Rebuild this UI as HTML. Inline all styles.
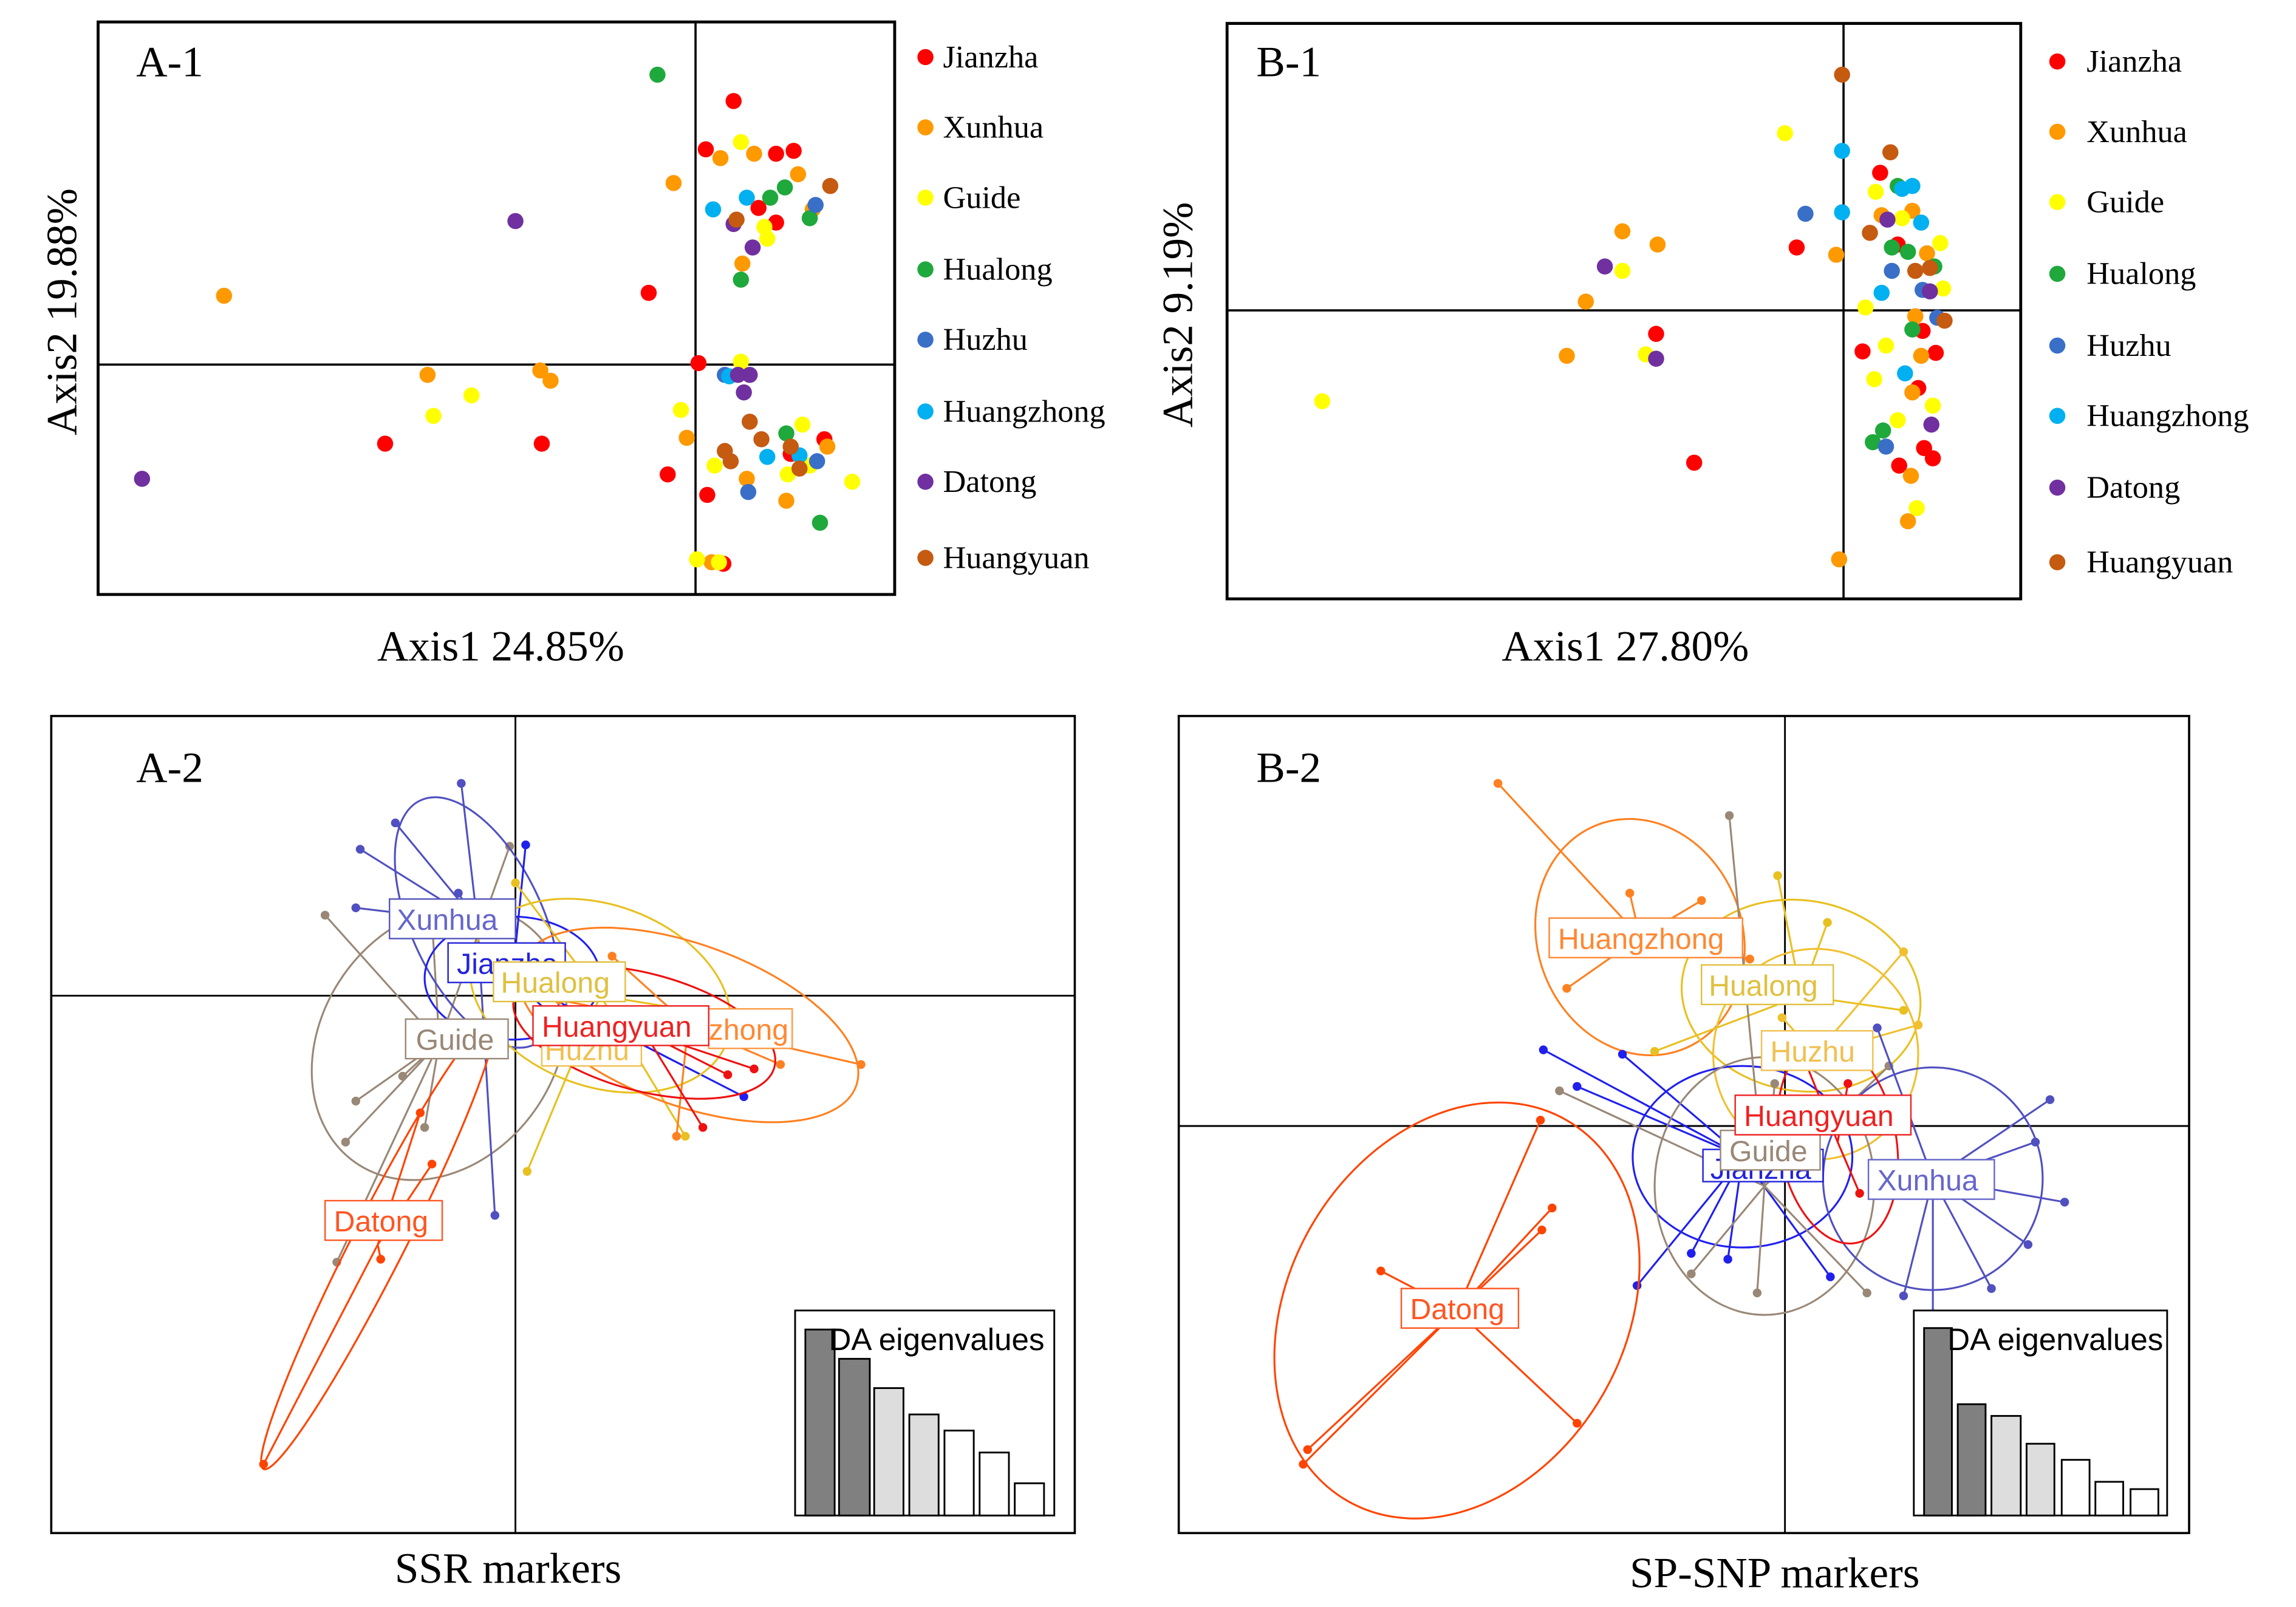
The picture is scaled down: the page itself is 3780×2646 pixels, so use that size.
<!DOCTYPE html>
<html><head><meta charset="utf-8"><style>
html,body{margin:0;padding:0;background:#fff}
svg{display:block}
.t{font-family:"Liberation Serif",serif;fill:#000}
.s{font-family:"Liberation Sans",sans-serif}
</style></head><body>
<svg id="s" width="3780" height="2646" viewBox="0 0 1568 1097.5" preserveAspectRatio="none" xmlns="http://www.w3.org/2000/svg">
<rect width="1568" height="1098" fill="#fff"/>
<!-- A-1 -->
<rect x="67" y="15" width="544" height="391" fill="none" stroke="#000" stroke-width="2"/>
<line x1="475" y1="15" x2="475" y2="406" stroke="#000" stroke-width="1.5"/>
<line x1="67" y1="249" x2="611" y2="249" stroke="#000" stroke-width="1.5"/>
<text class="t" x="93" y="52" font-size="29.5">A-1</text>
<text class="t" x="342" y="451" font-size="29.5" text-anchor="middle">Axis1 24.85%</text>
<text class="t" x="52" y="213" font-size="29.5" text-anchor="middle" transform="rotate(-90 52 213)">Axis2 19.88%</text>
<!-- B-1 -->
<rect x="838" y="16" width="542" height="393" fill="none" stroke="#000" stroke-width="2"/>
<line x1="1259" y1="16" x2="1259" y2="409" stroke="#000" stroke-width="1.5"/>
<line x1="838" y1="212" x2="1380" y2="212" stroke="#000" stroke-width="1.5"/>
<text class="t" x="858" y="52" font-size="29.5">B-1</text>
<text class="t" x="1110" y="451" font-size="29.5" text-anchor="middle">Axis1 27.80%</text>
<text class="t" x="814" y="215" font-size="29.5" text-anchor="middle" transform="rotate(-90 814 215)">Axis2 9.19%</text>
<!-- legends -->
<g class="t" font-size="21.7">
<text x="644" y="46">Jianzha</text><text x="644" y="94">Xunhua</text><text x="644" y="142">Guide</text><text x="644" y="191">Hualong</text>
<text x="644" y="239">Huzhu</text><text x="644" y="288">Huangzhong</text><text x="644" y="336">Datong</text><text x="644" y="388">Huangyuan</text>
<text x="1425" y="49">Jianzha</text><text x="1425" y="97">Xunhua</text><text x="1425" y="145">Guide</text><text x="1425" y="194">Hualong</text>
<text x="1425" y="243">Huzhu</text><text x="1425" y="291">Huangzhong</text><text x="1425" y="340">Datong</text><text x="1425" y="391">Huangyuan</text>
</g>
<!-- A-2 -->
<rect x="35" y="489" width="699" height="558" fill="none" stroke="#000" stroke-width="1.5"/>
<line x1="352" y1="489" x2="352" y2="1047" stroke="#000" stroke-width="1.2"/>
<line x1="35" y1="680" x2="734" y2="680" stroke="#000" stroke-width="1.2"/>
<text class="t" x="93" y="534" font-size="29.5">A-2</text>
<text class="t" x="347" y="1081" font-size="29.5" text-anchor="middle">SSR markers</text>
<!-- B-2 -->
<rect x="805" y="489" width="690" height="558" fill="none" stroke="#000" stroke-width="1.5"/>
<line x1="1219" y1="489" x2="1219" y2="1047" stroke="#000" stroke-width="1.2"/>
<line x1="805" y1="769" x2="1495" y2="769" stroke="#000" stroke-width="1.2"/>
<text class="t" x="858" y="534" font-size="29.5">B-2</text>
<text class="t" x="1212" y="1084" font-size="29.5" text-anchor="middle">SP-SNP markers</text>
<g id="dyn"></g>
<!-- labels A-2 -->
<g class="s" font-size="20">
<rect x="266" y="614" width="86" height="27" fill="#fff" stroke="#5555bb"/><text x="271" y="635" fill="#6666cc">Xunhua</text>
<rect x="306" y="644" width="80" height="27" fill="#fff" stroke="#2222dd"/><text x="312" y="665" fill="#2222dd">Jianzha</text>
<rect x="484" y="689" width="57" height="27" fill="#fff" stroke="#ff9944"/><text x="484" y="710" fill="#ff8833">zhong</text>
<rect x="370" y="706" width="68" height="22" fill="#fff" stroke="#f0c050"/><text x="372" y="724" fill="#f0c050">Huzhu</text>
<rect x="337" y="657" width="90" height="27" fill="#fff" stroke="#e0c040"/><text x="342" y="678" fill="#e0c040">Hualong</text>
<rect x="277" y="696" width="70" height="27" fill="#fff" stroke="#998877"/><text x="284" y="717" fill="#998877">Guide</text>
<rect x="364" y="687" width="120" height="27" fill="#fff" stroke="#ee2222"/><text x="370" y="708" fill="#ee2222">Huangyuan</text>
<rect x="222" y="820" width="80" height="27" fill="#fff" stroke="#ff5522"/><text x="228" y="841" fill="#ff5522">Datong</text>
<!-- labels B-2 -->
<rect x="1058" y="627" width="132" height="27" fill="#fff" stroke="#ff8833"/><text x="1064" y="648" fill="#ff8833">Huangzhong</text>
<rect x="1162" y="659" width="90" height="27" fill="#fff" stroke="#e0c040"/><text x="1167" y="680" fill="#e0c040">Hualong</text>
<rect x="1203" y="704" width="76" height="27" fill="#fff" stroke="#f0c050"/><text x="1209" y="725" fill="#f0c050">Huzhu</text>
<rect x="1163" y="785" width="82" height="22" fill="#fff" stroke="#2222dd"/><text x="1168" y="805" fill="#2222dd">Jianzha</text>
<rect x="1175" y="772" width="68" height="27" fill="#fff" stroke="#998877"/><text x="1181" y="793" fill="#998877">Guide</text>
<rect x="1185" y="748" width="120" height="27" fill="#fff" stroke="#ee2222"/><text x="1191" y="769" fill="#ee2222">Huangyuan</text>
<rect x="1276" y="792" width="86" height="27" fill="#fff" stroke="#6666cc"/><text x="1282" y="813" fill="#6666cc">Xunhua</text>
<rect x="957" y="880" width="80" height="27" fill="#fff" stroke="#ff5522"/><text x="963" y="901" fill="#ff5522">Datong</text>
</g>
<!-- eigen insets -->
<g stroke="#000" stroke-width="1.2">
<rect x="543" y="895" width="177" height="140" fill="#fff"/>
<rect x="550" y="908" width="20" height="127" fill="#808080"/>
<rect x="573" y="928" width="21" height="107" fill="#808080"/>
<rect x="597" y="948" width="20" height="87" fill="#dddddd"/>
<rect x="621" y="966" width="20" height="69" fill="#dddddd"/>
<rect x="645" y="977" width="20" height="58" fill="#fff"/>
<rect x="669" y="992" width="20" height="43" fill="#fff"/>
<rect x="693" y="1013" width="20" height="22" fill="#fff"/>
<rect x="1307" y="895" width="173" height="140" fill="#fff"/>
<rect x="1314" y="907" width="19" height="128" fill="#808080"/>
<rect x="1337" y="959" width="19" height="76" fill="#808080"/>
<rect x="1360" y="967" width="20" height="68" fill="#dddddd"/>
<rect x="1384" y="986" width="19" height="49" fill="#dddddd"/>
<rect x="1408" y="997" width="19" height="38" fill="#fff"/>
<rect x="1431" y="1012" width="19" height="23" fill="#fff"/>
<rect x="1455" y="1017" width="19" height="18" fill="#fff"/>
</g>
<g class="s" font-size="21.2" fill="#000"><text x="566" y="922">DA eigenvalues</text><text x="1330" y="922">DA eigenvalues</text></g>
</svg>
<script>
var NS="http://www.w3.org/2000/svg",g=document.getElementById("dyn");
function el(n,a){var e=document.createElementNS(NS,n);for(var k in a)e.setAttribute(k,a[k]);g.appendChild(e);return e;}
var C={J:"#ff0000",X:"#ff9900",G:"#ffff00",H:"#1fa83c",Z:"#3a6fc8",Q:"#00b0f0",D:"#7030a0",Y:"#c55a11"};
var A1={J:[[501,69],[482,102],[530,105],[542,103],[518,142],[530,152],[443,200],[477,248],[263,303],[370,303],[456,324],[483,338],[563,300],[494,385],[540,310]],
X:[[492,108],[515,105],[545,119],[460,125],[555,143],[507,180],[153,202],[292,256],[369,253],[376,260],[469,299],[510,327],[537,342],[565,305],[486,384]],
G:[[506,97],[522,155],[524,163],[506,247],[322,270],[296,284],[465,280],[488,318],[538,324],[582,329],[476,382],[491,384],[548,290],[553,318]],
H:[[449,51],[536,128],[526,135],[553,149],[506,191],[537,296],[560,357]],
Z:[[557,140],[511,336],[558,315],[495,256]],
Q:[[487,143],[510,135],[498,257],[524,312],[546,311]],
D:[[352,151],[501,153],[514,169],[97,327],[504,256],[512,256],[508,268]],
Y:[[567,127],[503,150],[512,288],[495,308],[499,315],[520,300],[540,305],[546,320]]};
var B1={J:[[1227,169],[1284,118],[1296,167],[1272,240],[1313,226],[1131,228],[1157,316],[1310,265],[1314,306],[1297,318],[1320,313],[1322,241]],
X:[[1108,158],[1132,167],[1083,206],[1070,243],[1254,174],[1285,147],[1306,144],[1316,173],[1312,243],[1306,268],[1305,325],[1303,356],[1256,382],[1308,216]],
G:[[1219,91],[903,274],[1108,185],[1124,242],[1281,131],[1299,149],[1325,166],[1327,197],[1274,210],[1288,236],[1280,259],[1320,277],[1309,347],[1296,287]],
H:[[1296,127],[1292,169],[1303,172],[1321,182],[1306,225],[1279,302],[1286,294]],
Z:[[1233,146],[1292,185],[1288,305],[1323,217],[1313,198]],
Q:[[1258,103],[1258,145],[1299,129],[1306,127],[1312,152],[1301,255],[1285,200]],
D:[[1096,182],[1131,245],[1289,150],[1319,290],[1318,199]],
Y:[[1258,51],[1291,104],[1277,159],[1308,185],[1328,219],[1318,183]]};
[A1,B1].forEach(function(S){for(var k in S)S[k].forEach(function(p){el("circle",{cx:p[0],cy:p[1],r:5.5,fill:C[k]});});});
var ks=["J","X","G","H","Z","Q","D","Y"],ly=[39,87,135,184,232,281,329,381],ly2=[42,90,138,187,236,284,333,384];
ks.forEach(function(k,i){el("circle",{cx:632,cy:ly[i],r:5.5,fill:C[k]});el("circle",{cx:1405,cy:ly2[i],r:5.5,fill:C[k]});});
var A2=[["#998877",300,712,80,100,35,[[222,625],[243,752],[236,780],[275,735],[290,770],[295,628],[348,578],[230,862]]],
["#5050c0",326,630,45,92,-25,[[315,535],[270,562],[246,580],[243,620],[313,610],[338,830]]],
["#2020ee",350,668,60,42,0,[[359,577],[414,667],[395,711],[508,749]]],
["#e8c020",410,680,92,62,20,[[352,603],[520,698],[360,800],[468,776]]],
["#ff8020",470,700,122,55,20,[[418,653],[588,727],[462,776],[533,727],[382,683]]],
["#ee1111",440,705,92,40,15,[[497,734],[515,730],[480,770],[410,690]]],
["#ff4400",258,850,172,18,-63,[[180,1000],[260,860],[287,760],[295,795]]]];
var B2=[["#ff8020",1120,640,70,82,-20,[[1023,535],[1113,610],[1070,675],[1195,655],[1162,615]]],
["#e8c020",1230,680,82,65,10,[[1248,630],[1300,690],[1130,718],[1214,598]]],
["#f0c030",1240,720,70,72,0,[[1300,650],[1310,700],[1217,695]]],
["#2020ee",1190,790,75,62,0,[[1054,717],[1108,720],[1077,742],[1118,878],[1155,856],[1250,872],[1180,860]]],
["#998877",1205,810,75,88,0,[[1181,557],[1212,740],[1065,745],[1155,870],[1200,883],[1275,883],[1290,728]]],
["#5050c0",1320,805,75,76,0,[[1390,780],[1400,751],[1410,821],[1385,850],[1360,880],[1300,885],[1320,900],[1282,702]]],
["#ee1111",1255,780,40,70,-10,[[1262,740],[1270,815],[1228,713]]],
["#ff4400",995,895,115,150,30,[[893,990],[890,1000],[1077,972],[943,868],[1052,765],[1060,825],[1053,840]]]];
[A2,B2].forEach(function(G){G.forEach(function(q){var c=q[0],cx=q[1],cy=q[2];
el("ellipse",{cx:cx,cy:cy,rx:q[3],ry:q[4],transform:"rotate("+q[5]+" "+cx+" "+cy+")",fill:"none",stroke:c,"stroke-width":1.3});
q[6].forEach(function(p){el("line",{x1:cx,y1:cy,x2:p[0],y2:p[1],stroke:c,"stroke-width":1.3});el("circle",{cx:p[0],cy:p[1],r:3,fill:c});});});});
</script>
</body></html>
